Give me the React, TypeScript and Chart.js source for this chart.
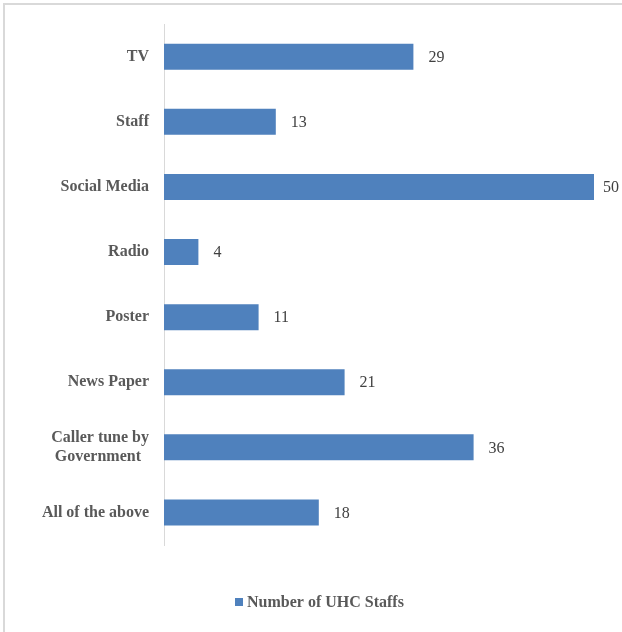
import React, { useEffect, useRef } from "react";
import { Chart, registerables } from "chart.js";

Chart.register(...registerables);

const categories: (string | string[])[] = [
  "TV",
  "Staff",
  "Social Media",
  "Radio",
  "Poster",
  "News Paper",
  ["Caller tune by", "Government  "],
  "All of the above",
];
const staffValues: number[] = [29, 13, 50, 4, 11, 21, 36, 18];
const seriesLabel = "Number of UHC Staffs";
const barColor = "#4F81BD";

const SERIF = "'Liberation Serif', 'Times New Roman', serif";

const valueLabels = {
  id: "valueLabels",
  afterDatasetsDraw(chart: any) {
    const ctx = chart.ctx;
    const meta = chart.getDatasetMeta(0);
    ctx.save();
    ctx.font = `16px ${SERIF}`;
    ctx.fillStyle = "#404040";
    ctx.textAlign = "left";
    ctx.textBaseline = "middle";
    meta.data.forEach((bar: any, i: number) => {
      const txt = String(chart.data.datasets[0].data[i]);
      const w = ctx.measureText(txt).width;
      const x = Math.min(bar.x + 15, chart.width - 3 - w);
      ctx.fillText(txt, x, bar.y + 1);
    });
    ctx.restore();
  },
};

const customLegend = {
  id: "customLegend",
  afterDraw(chart: any) {
    const ctx = chart.ctx;
    const ds = chart.data.datasets[0];
    ctx.save();
    ctx.font = `bold 16px ${SERIF}`;
    const tw = ctx.measureText(ds.label).width;
    const total = 8 + 4 + tw;
    const x0 = Math.round(319 - total / 2);
    const yc = chart.chartArea.bottom + 57;
    ctx.fillStyle = ds.backgroundColor;
    ctx.fillRect(x0, yc - 4, 8, 8);
    ctx.fillStyle = "#595959";
    ctx.textAlign = "left";
    ctx.textBaseline = "middle";
    ctx.fillText(ds.label, x0 + 12, yc + 1);
    // frame lines (top and left)
    ctx.strokeStyle = "#d9d9d9";
    ctx.lineWidth = 2;
    ctx.beginPath();
    ctx.moveTo(4, 632);
    ctx.lineTo(4, 4);
    ctx.lineTo(622, 4);
    ctx.stroke();
    ctx.restore();
  },
};

export default function App() {
  const ref = useRef<HTMLCanvasElement | null>(null);
  useEffect(() => {
    if (!ref.current) return;
    const chart = new Chart(ref.current, {
      type: "bar",
      data: {
        labels: categories,
        datasets: [
          {
            label: seriesLabel,
            data: staffValues,
            backgroundColor: barColor,
            borderWidth: 0,
            categoryPercentage: 1,
            barPercentage: 0.4,
          },
        ],
      },
      options: {
        indexAxis: "y",
        animation: false,
        responsive: false,
        maintainAspectRatio: false,
        layout: { padding: { top: 24, bottom: 87, right: 28, left: 0 } },
        plugins: {
          legend: { display: false },
          tooltip: { enabled: false },
        },
        scales: {
          x: {
            display: false,
            min: 0,
            max: 50,
          },
          y: {
            afterFit(scale: any) {
              scale.width = 164;
            },
            grid: { display: false, drawTicks: false },
            border: { display: true, color: "#d9d9d9", width: 1 },
            ticks: {
              padding: 15,
              color: "#595959",
              font: { family: SERIF, size: 16, weight: "bold", lineHeight: 1.15 },
            },
          },
        },
      },
      plugins: [valueLabels, customLegend],
    });
    return () => chart.destroy();
  }, []);
  return (
    <div style={{ position: "absolute", left: 0, top: 0, width: 622, height: 632, background: "#fff" }}>
      <canvas ref={ref} width={622} height={632} style={{ display: "block" }} />
    </div>
  );
}
